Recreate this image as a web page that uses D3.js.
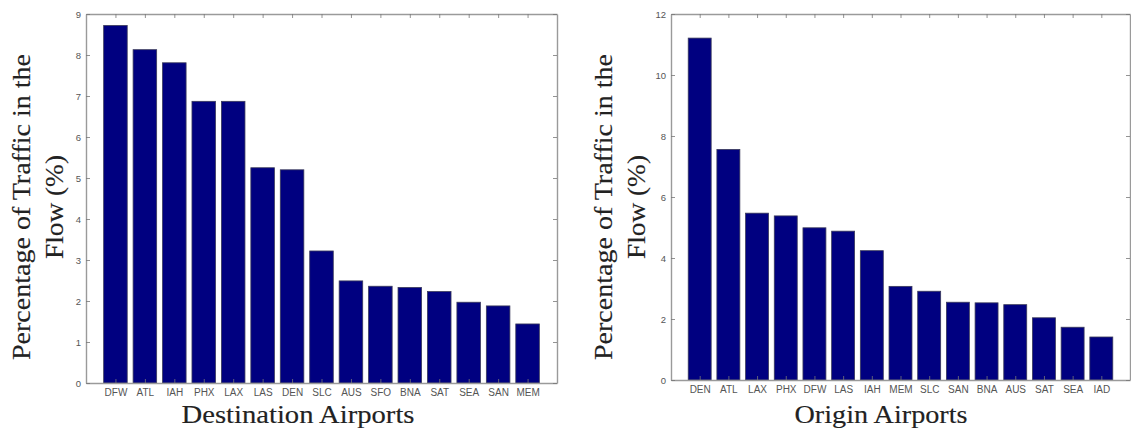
<!DOCTYPE html>
<html><head><meta charset="utf-8">
<script src="https://cdn.jsdelivr.net/npm/d3@7"></script>
<style>body{margin:0;background:#fff}svg{display:block}</style>
</head><body>
<svg id="c" width="1131" height="433"></svg>
<script>
const destCategories = ["DFW","ATL","IAH","PHX","LAX","LAS","DEN","SLC","AUS","SFO","BNA","SAT","SEA","SAN","MEM"];
const destValues = [8.72,8.13,7.81,6.87,6.87,5.25,5.2,3.22,2.49,2.36,2.33,2.23,1.97,1.88,1.44];
const destYTicks = [0,1,2,3,4,5,6,7,8,9];

const origCategories = ["DEN","ATL","LAX","PHX","DFW","LAS","IAH","MEM","SLC","SAN","BNA","AUS","SAT","SEA","IAD"];
const origValues = [11.21,7.56,5.47,5.38,4.99,4.88,4.24,3.07,2.91,2.55,2.53,2.47,2.04,1.73,1.41];
const origYTicks = [0,2,4,6,8,10,12];

const yTitleLines = ["Percentage of Traffic in the","Flow (%)"];

const svg = d3.select("#c");

function drawChart(cfg){
  const g = svg.append("g");
  const x = d3.scaleLinear().domain([0, cfg.cats.length + 1]).range([cfg.left, cfg.right]);
  const y = d3.scaleLinear().domain([0, cfg.ymax]).range([cfg.bottom, cfg.top]);
  const bw = x(0.8) - x(0);

  g.selectAll("rect.bar").data(cfg.vals).join("rect")
    .attr("class","bar")
    .attr("x",(d,i)=>x(i+1)-bw/2)
    .attr("width",bw)
    .attr("y",d=>y(d))
    .attr("height",d=>y(0)-y(d))
    .attr("fill","#000080")
    .attr("stroke","#3a3a5a")
    .attr("stroke-width",0.8);

  const tickCol = "#9a9a9a";
  const ax = d3.axisBottom(x).tickValues(d3.range(1, cfg.cats.length+1))
    .tickFormat(i=>cfg.cats[i-1]).tickSizeInner(-4).tickSizeOuter(0).tickPadding(6);
  const gx = g.append("g").attr("transform",`translate(0,${cfg.bottom})`).call(ax);
  const axTop = d3.axisTop(x).tickValues(d3.range(1, cfg.cats.length+1))
    .tickFormat("").tickSizeInner(-4).tickSizeOuter(0);
  const gxt = g.append("g").attr("transform",`translate(0,${cfg.top})`).call(axTop);
  const ay = d3.axisLeft(y).tickValues(cfg.yticks).tickFormat(d3.format("d"))
    .tickSizeInner(-4).tickSizeOuter(0).tickPadding(5);
  const gy = g.append("g").attr("transform",`translate(${cfg.left},0)`).call(ay);
  const ayr = d3.axisRight(y).tickValues(cfg.yticks).tickFormat("")
    .tickSizeInner(-4).tickSizeOuter(0);
  const gyr = g.append("g").attr("transform",`translate(${cfg.right},0)`).call(ayr);
  [gx,gxt,gy,gyr].forEach(a=>{
    a.select(".domain").attr("stroke",tickCol).attr("stroke-width",1.4);
    a.selectAll(".tick line").attr("stroke","#777").attr("stroke-width",0.8);
    a.selectAll(".tick text").attr("fill","#555")
      .style("font-family","'Liberation Sans', Arial, sans-serif");
  });
  gx.selectAll(".tick text").style("font-size","10px");
  gy.selectAll(".tick text").style("font-size","9.5px");

  const serif = "'Liberation Serif', 'DejaVu Serif', serif";
  g.append("text").attr("x",cfg.xTitleX).attr("y",423)
    .attr("text-anchor","middle")
    .attr("textLength",cfg.xTitleLen).attr("lengthAdjust","spacingAndGlyphs")
    .style("font-family",serif).style("font-size","25px")
    .attr("fill","#222").attr("stroke","#222").attr("stroke-width",0.15)
    .text(cfg.xTitle);
  const lens = [306, 104];
  yTitleLines.forEach((t,k)=>{
    g.append("text")
      .attr("transform",`translate(${cfg.yTitleX + k*33},207) rotate(-90)`)
      .attr("text-anchor","middle")
      .attr("textLength",lens[k]).attr("lengthAdjust","spacingAndGlyphs")
      .style("font-family",serif).style("font-size","25px")
      .attr("fill","#222").attr("stroke","#222").attr("stroke-width",0.15)
      .text(t);
  });
}

drawChart({cats:destCategories, vals:destValues, yticks:destYTicks, ymax:9,
  left:86, right:557, top:14, bottom:383,
  xTitle:"Destination Airports", xTitleX:298, xTitleLen:233, yTitleX:30});
drawChart({cats:origCategories, vals:origValues, yticks:origYTicks, ymax:12,
  left:671, right:1130, top:14, bottom:380,
  xTitle:"Origin Airports", xTitleX:881, xTitleLen:173, yTitleX:612});
</script>
</body></html>
